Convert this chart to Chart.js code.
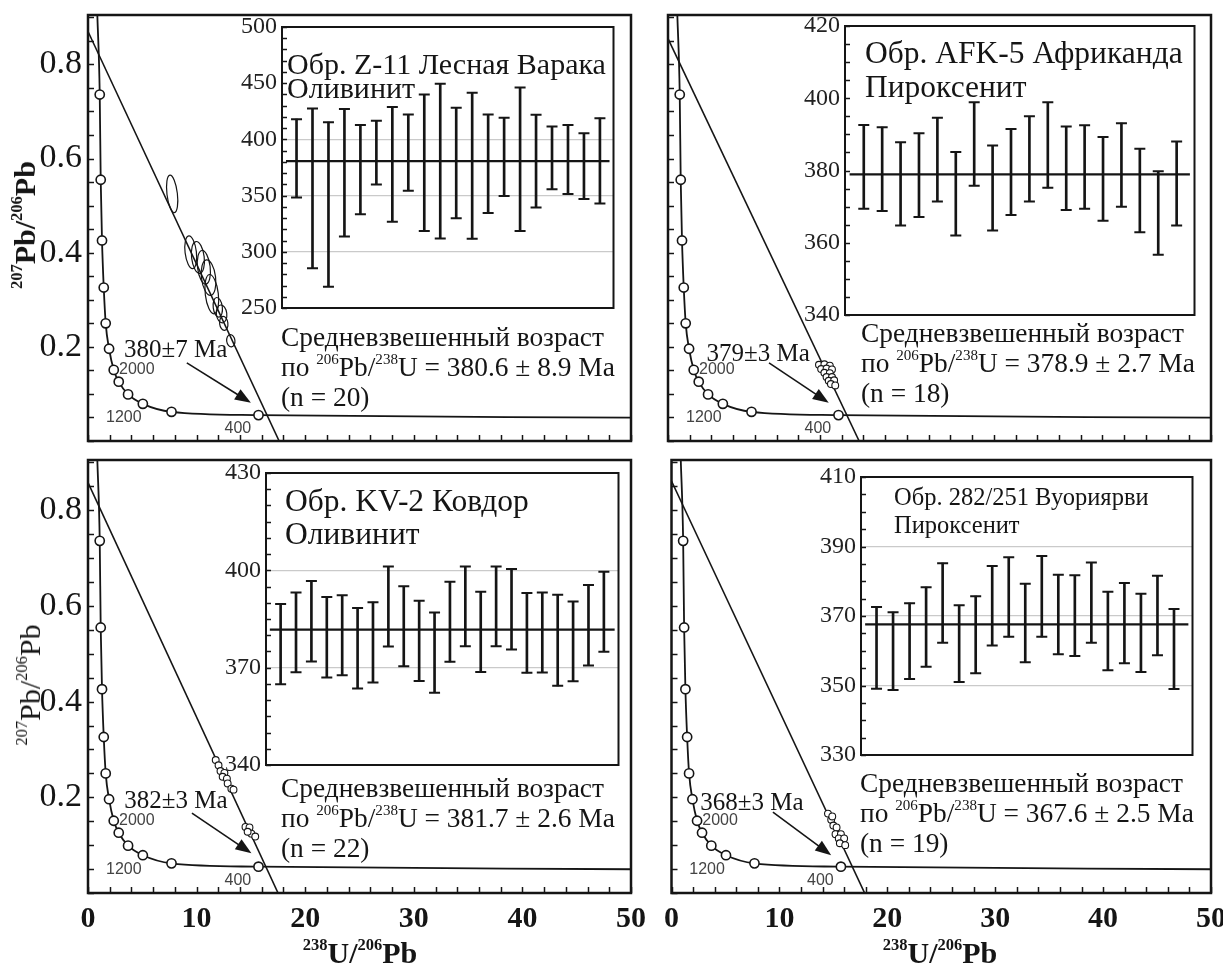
<!DOCTYPE html>
<html lang="ru">
<head>
<meta charset="utf-8">
<title>U-Pb perovskite ages</title>
<script src="https://cdn.jsdelivr.net/npm/chart.js@4.4.1/dist/chart.umd.min.js"></script>
<style>
html, body { margin: 0; padding: 0; overflow: hidden; background: #fff; }
#page { position: relative; width: 1223px; height: 967px; overflow: hidden; background: #fff; }
canvas { position: absolute; }
.t { position: absolute; font-family: "Liberation Serif", "Times New Roman", serif; color: #151515; white-space: nowrap; }
.t sup { font-size: 55%; vertical-align: 0.8em; line-height: 0; }
.cap { font-size: 27.4px; line-height: 30px; }
.yt { font-size: 30px; transform: translate(-50%, -50%) rotate(-90deg); }
.xt { font-size: 30px; font-weight: bold; transform: translate(-50%, -50%); }
.lab { font-family: "Liberation Sans", Arial, sans-serif; font-size: 16px; color: #444; transform: translate(-50%, -50%); }
.age { font-size: 25px; transform: translate(-50%, -50%); }
</style>
</head>
<body>
<div id="page">
  <div class="t" style="left:287px;top:52px;font-size:30px;line-height:24px">Обр. Z-11 Лесная Варака<br>Оливинит</div>
  <div class="t cap" style="left:281px;top:322px">Средневзвешенный возраст<br>по <sup>206</sup>Pb/<sup>238</sup>U = 380.6 ± 8.9 Ma<br>(n = 20)</div>

  <div class="t" style="left:865px;top:36px;font-size:31.5px;line-height:34px">Обр. AFK-5 Африканда<br>Пироксенит</div>
  <div class="t cap" style="left:861px;top:318px">Средневзвешенный возраст<br>по <sup>206</sup>Pb/<sup>238</sup>U = 378.9 ± 2.7 Ma<br>(n = 18)</div>

  <div class="t" style="left:285px;top:484px;font-size:31.5px;line-height:33px">Обр. KV-2 Ковдор<br>Оливинит</div>
  <div class="t cap" style="left:281px;top:773px">Средневзвешенный возраст<br>по <sup>206</sup>Pb/<sup>238</sup>U = 381.7 ± 2.6 Ma<br>(n = 22)</div>

  <div class="t" style="left:894px;top:483px;font-size:24.5px;line-height:28px">Обр. 282/251 Вуориярви<br>Пироксенит</div>
  <div class="t cap" style="left:860px;top:768px">Средневзвешенный возраст<br>по <sup>206</sup>Pb/<sup>238</sup>U = 367.6 ± 2.5 Ma<br>(n = 19)</div>

  <div class="t yt" style="left:25px;top:225px;font-weight:bold"><sup>207</sup>Pb/<sup>206</sup>Pb</div>
  <div class="t yt" style="left:30px;top:685px"><sup>207</sup>Pb/<sup>206</sup>Pb</div>
  <div class="t xt" style="left:360px;top:953px"><sup>238</sup>U/<sup>206</sup>Pb</div>
  <div class="t xt" style="left:940px;top:953px"><sup>238</sup>U/<sup>206</sup>Pb</div>
</div>
<script>
// concordia markers, 400 ... 4800 Ma every 400 Ma (238U/206Pb, 207Pb/206Pb)
const concX = [15.7, 7.69, 5.05, 3.69, 2.83, 2.37, 1.94, 1.63, 1.45, 1.29, 1.17, 1.08];
const concY = [0.055, 0.062, 0.079, 0.099, 0.126, 0.151, 0.196, 0.250, 0.326, 0.426, 0.555, 0.736];
// where the concordia leaves the frame (top, right)
const concEndX = [0.86, 50];
const concEndY = [0.905, 0.0496];
const concLabels = ['2000', '1200', '400'];
const concLabelX = [4.5, 3.3, 13.8];
const concLabelY = [0.152, 0.05, 0.028];

// Z-11 Лесная Варака
const zDiscX = [0, 17.6];
const zDiscY = [0.87, 0];
const zEllX = [7.75, 9.46, 10.12, 10.67, 11.1, 11.4, 11.95, 12.3, 12.5, 13.15];
const zEllY = [0.525, 0.401, 0.390, 0.369, 0.347, 0.312, 0.284, 0.270, 0.250, 0.213];
const zEllRx = [0.48, 0.52, 0.58, 0.58, 0.65, 0.6, 0.42, 0.48, 0.38, 0.38];
const zEllRy = [0.04, 0.035, 0.034, 0.036, 0.038, 0.042, 0.021, 0.019, 0.015, 0.013];
const zHi = [418, 427.6, 415.3, 427, 412.9, 416.5, 428.8, 422.2, 439.9, 449.5, 428.2, 441.4, 422.2, 419.2, 446.2, 421.9, 411.4, 412.9, 405.4, 418.9];
const zLo = [348.4, 285.4, 268.9, 313.6, 333.4, 359.8, 326.8, 354.4, 318.4, 311.8, 329.8, 311.5, 334.6, 349.6, 318.4, 339.4, 355.6, 351.4, 346.9, 343];
const zMean = 380.6;
const zAgeTicks = [250, 300, 350, 400, 450, 500];
const zGrid = [300, 350, 400];

// AFK-5 Африканда
const aDiscX = [0, 17.6];
const aDiscY = [0.855, 0];
const aPtX = [13.9, 14.4, 14.9, 14.1, 14.6, 15.1, 14.4, 14.9, 14.6, 15.1, 14.8, 15.3, 15.0, 15.4];
const aPtY = [0.162, 0.163, 0.160, 0.153, 0.154, 0.152, 0.145, 0.144, 0.136, 0.136, 0.128, 0.129, 0.121, 0.118];
const aHi = [392.6, 392, 387.8, 390.3, 394.6, 385.1, 398.9, 386.9, 391.5, 395, 398.9, 392.2, 392.5, 389.3, 393.1, 386, 379.8, 388];
const aLo = [369.4, 368.8, 364.8, 367.1, 371.4, 362, 375.8, 363.4, 367.7, 371.4, 375.2, 369.1, 369.4, 366.1, 370, 362.9, 356.7, 364.8];
const aMean = 378.9;
const aAgeTicks = [340, 360, 380, 400, 420];
const aGrid = [];

// KV-2 Ковдор
const kDiscX = [0, 17.5];
const kDiscY = [0.858, 0];
const kPtX = [11.76, 12.02, 12.2, 12.56, 12.4, 12.79, 12.86, 13.2, 13.4, 14.5, 14.87, 15.05, 15.4, 14.7];
const kPtY = [0.278, 0.267, 0.255, 0.251, 0.243, 0.239, 0.229, 0.218, 0.216, 0.138, 0.137, 0.124, 0.118, 0.128];
const kHi = [389.6, 393.2, 396.7, 391.8, 392.3, 388.4, 390.2, 401.2, 395.1, 390.6, 387, 396.5, 401.2, 393.4, 401.2, 400.4, 393, 393.2, 392.5, 390.4, 395.5, 399.6];
const kLo = [364.9, 368.6, 371.9, 367, 367.7, 363.6, 365.4, 376.5, 370.4, 365.9, 362.3, 371.8, 376.6, 368.7, 376.6, 375.6, 368.4, 368.5, 364.4, 365.8, 370.7, 374.9];
const kMean = 381.7;
const kAgeTicks = [340, 370, 400, 430];
const kGrid = [370, 400];

// 282/251 Вуориярви
const vDiscX = [0, 17.9];
const vDiscY = [0.861, 0];
const vPtX = [14.5, 14.8, 15.0, 15.3, 15.2, 15.7, 15.5, 16.0, 15.6, 16.1, 14.9];
const vPtY = [0.166, 0.153, 0.141, 0.137, 0.123, 0.123, 0.114, 0.114, 0.104, 0.100, 0.160];
const vHi = [372.6, 371.1, 373.7, 378.3, 385.2, 373.1, 375.7, 384.4, 386.9, 379.3, 387.3, 381.9, 381.7, 385.4, 377, 379.5, 376.4, 381.6, 372];
const vLo = [349.1, 348.7, 351.9, 355.4, 362.3, 351, 353.5, 361.5, 364, 356.7, 364, 359, 358.5, 362.3, 354.4, 356.4, 353.9, 358.7, 349];
const vMean = 367.6;
const vAgeTicks = [330, 350, 370, 390, 410];
const vGrid = [350, 370, 390];

// age notes with arrows
const noteText = ['380±7 Ma', '379±3 Ma', '382±3 Ma', '368±3 Ma'];
const noteX = [8.08, 8.3, 8.1, 7.45];
const noteY = [0.196, 0.187, 0.194, 0.19];
const arrowX0 = [9.1, 9.3, 9.57, 9.4];
const arrowY0 = [0.166, 0.166, 0.167, 0.169];
const arrowX1 = [15.0, 14.8, 15.05, 14.8];
const arrowY1 = [0.081, 0.081, 0.083, 0.079];

const SERIF = '"Liberation Serif", "Times New Roman", serif';
const INK = '#151515';
const page = document.getElementById('page');
const pts = (xs, ys) => xs.map((x, i) => ({ x, y: ys[i] }));

function makeCanvas(l, t, w, h) {
  const c = document.createElement('canvas');
  c.width = w; c.height = h;
  c.style.left = l + 'px'; c.style.top = t + 'px';
  c.style.width = w + 'px'; c.style.height = h + 'px';
  page.insertBefore(c, page.firstChild);
  return { c, l, t };
}

function addText(cls, html, left, top) {
  const d = document.createElement('div');
  d.className = 't ' + cls;
  d.innerHTML = html;
  d.style.left = left + 'px';
  d.style.top = top + 'px';
  page.appendChild(d);
}

// frame around the plot area, ticks drawn inward
function framePlugin(inner, len, width) {
  return {
    id: 'frame',
    afterDraw(chart) {
      const { ctx, chartArea: a } = chart;
      ctx.save();
      ctx.strokeStyle = INK;
      ctx.lineWidth = 1.5;
      inner.forEach(id => {
        const s = chart.scales[id];
        s.ticks.forEach(t => {
          const p = Math.round(s.getPixelForValue(t.value)) + 0.5;
          ctx.beginPath();
          if (s.isHorizontal()) { ctx.moveTo(p, a.bottom); ctx.lineTo(p, a.bottom - len); }
          else { ctx.moveTo(a.left, p); ctx.lineTo(a.left + len, p); }
          ctx.stroke();
        });
      });
      ctx.lineWidth = width;
      ctx.strokeRect(a.left, a.top, a.right - a.left, a.bottom - a.top);
      ctx.restore();
    }
  };
}

// ellipses and the age arrow, placed with the chart scales
function marksPlugin(p) {
  return {
    id: 'marks',
    afterDatasetsDraw(chart) {
      const { ctx } = chart, xs = chart.scales.x, ys = chart.scales.y;
      ctx.save();
      ctx.strokeStyle = INK;
      ctx.lineWidth = 1.2;
      (p.ellX || []).forEach((x, i) => {
        const cx = xs.getPixelForValue(x), cy = ys.getPixelForValue(p.ellY[i]);
        const rx = Math.abs(xs.getPixelForValue(x + p.ellRx[i]) - cx);
        const ry = Math.abs(ys.getPixelForValue(p.ellY[i] + p.ellRy[i]) - cy);
        ctx.beginPath();
        ctx.ellipse(cx, cy, rx, ry, -0.12, 0, Math.PI * 2);
        ctx.stroke();
      });
      const i = p.k;
      const x0 = xs.getPixelForValue(arrowX0[i]), y0 = ys.getPixelForValue(arrowY0[i]);
      const x1 = xs.getPixelForValue(arrowX1[i]), y1 = ys.getPixelForValue(arrowY1[i]);
      const ang = Math.atan2(y1 - y0, x1 - x0);
      ctx.lineWidth = 1.6;
      ctx.beginPath(); ctx.moveTo(x0, y0);
      ctx.lineTo(x1 - 12 * Math.cos(ang), y1 - 12 * Math.sin(ang)); ctx.stroke();
      ctx.fillStyle = INK;
      ctx.beginPath();
      ctx.moveTo(x1, y1);
      ctx.lineTo(x1 - 16 * Math.cos(ang) + 6 * Math.sin(ang), y1 - 16 * Math.sin(ang) - 6 * Math.cos(ang));
      ctx.lineTo(x1 - 16 * Math.cos(ang) - 6 * Math.sin(ang), y1 - 16 * Math.sin(ang) + 6 * Math.cos(ang));
      ctx.closePath(); ctx.fill();
      ctx.restore();
    }
  };
}

function mainChart(p) {
  const [l, t, r, b] = p.frame;
  const yw = p.yLabels ? l : 12;
  const xh = p.xLabels ? 967 - b : 30;
  const cv = makeCanvas(l - yw, t - 30, r + 26 - (l - yw), b + xh - (t - 30));
  const curve = pts([concEndX[0], ...concX.slice().reverse(), concEndX[1]],
                    [concEndY[0], ...concY.slice().reverse(), concEndY[1]]);
  const chart = new Chart(cv.c, {
    type: 'scatter',
    data: {
      datasets: [
        { data: pts(p.ptX || [], p.ptY || []), pointRadius: 3.4, pointBackgroundColor: '#fff',
          pointBorderColor: INK, pointBorderWidth: 1.1, order: 0 },
        { data: pts(concX, concY), pointRadius: 4.6, pointBackgroundColor: '#fff',
          pointBorderColor: INK, pointBorderWidth: 1.6, order: 1 },
        { data: pts(p.discX, p.discY), showLine: true, borderColor: INK, borderWidth: 1.6,
          pointRadius: 0, order: 2 },
        { data: curve, showLine: true, borderColor: INK, borderWidth: 1.8, pointRadius: 0,
          cubicInterpolationMode: 'monotone', order: 3 }
      ]
    },
    options: {
      responsive: false, animation: false, events: [],
      layout: { padding: { top: 30, right: 26, bottom: 0, left: 0 } },
      plugins: { legend: { display: false }, tooltip: { enabled: false } },
      scales: {
        x: {
          type: 'linear', min: 0, max: 50,
          afterFit: s => { s.height = xh; },
          ticks: { stepSize: 2, autoSkip: false, maxRotation: 0, includeBounds: false, padding: 8,
                   font: { family: SERIF, size: 30, weight: 'bold' }, color: INK,
                   callback: v => (p.xLabels && v % 10 === 0) ? String(v) : '' },
          grid: { display: false, drawTicks: false }, border: { display: false }
        },
        y: {
          min: 0, max: 0.905,
          afterFit: s => { s.width = yw; },
          ticks: { stepSize: 0.05, autoSkip: false, includeBounds: false, padding: 6,
                   font: { family: SERIF, size: 34 }, color: INK,
                   callback: v => { const k = Math.round(v * 100); return (p.yLabels && k > 0 && k % 20 === 0) ? (k / 100).toFixed(1) : ''; } },
          grid: { display: false, drawTicks: false }, border: { display: false }
        }
      }
    },
    plugins: [framePlugin(['x', 'y'], 6, 2.5), marksPlugin(p)]
  });
  const px = v => cv.l + chart.scales.x.getPixelForValue(v);
  const py = v => cv.t + chart.scales.y.getPixelForValue(v);
  concLabels.forEach((s, i) => addText('lab', s, px(concLabelX[i]), py(concLabelY[i])));
  addText('age', noteText[p.k], px(noteX[p.k]), py(noteY[p.k]));
}

function insetChart(q) {
  const [l, t, r, b] = q.box;
  const yw = 52;
  const cv = makeCanvas(l - yw, t - 22, r - l + yw + 4, b - t + 44);
  const idx = q.lo.map((_, i) => i + 1);
  new Chart(cv.c, {
    type: 'bar',
    data: {
      datasets: [
        { type: 'line', data: [{ x: q.xMin + 0.25, y: q.mean }, { x: q.xMax - 0.25, y: q.mean }],
          borderColor: INK, borderWidth: 2.2, pointRadius: 0, order: 0 },
        { type: 'scatter', data: pts(idx, q.lo).concat(pts(idx, q.hi)), pointStyle: 'line',
          pointRadius: 5.5, pointBorderColor: INK, pointBorderWidth: 2, order: 1 },
        { type: 'bar', data: idx.map((x, i) => ({ x, y: [q.lo[i], q.hi[i]] })),
          backgroundColor: INK, barThickness: 2, order: 2 }
      ]
    },
    options: {
      responsive: false, animation: false, events: [],
      layout: { padding: { top: 22, right: 4, bottom: 22, left: 0 } },
      plugins: { legend: { display: false }, tooltip: { enabled: false } },
      scales: {
        x: { type: 'linear', min: q.xMin, max: q.xMax, offset: false, display: false },
        y: {
          min: q.ticks[0], max: q.ticks[q.ticks.length - 1],
          afterFit: s => { s.width = yw; },
          ticks: { stepSize: q.step, autoSkip: false, padding: 5,
                   font: { family: SERIF, size: 24 }, color: '#222',
                   callback: v => q.ticks.includes(v) ? String(v) : '' },
          grid: { drawTicks: false, lineWidth: 1.2,
                  color: c => q.grid.includes(c.tick.value) ? '#cacaca' : 'rgba(0,0,0,0)' },
          border: { display: false }
        }
      }
    },
    plugins: [framePlugin(['y'], 5, 2)]
  });
}

mainChart({ k: 0, frame: [88, 15, 631, 441], yLabels: true, xLabels: false,
  discX: zDiscX, discY: zDiscY, ellX: zEllX, ellY: zEllY, ellRx: zEllRx, ellRy: zEllRy });
mainChart({ k: 1, frame: [668, 15, 1211, 441], yLabels: false, xLabels: false,
  discX: aDiscX, discY: aDiscY, ptX: aPtX, ptY: aPtY });
mainChart({ k: 2, frame: [88, 460, 631, 893], yLabels: true, xLabels: true,
  discX: kDiscX, discY: kDiscY, ptX: kPtX, ptY: kPtY });
mainChart({ k: 3, frame: [668, 460, 1211, 893], yLabels: false, xLabels: true,
  discX: vDiscX, discY: vDiscY, ptX: vPtX, ptY: vPtY });

insetChart({ box: [282, 27, 617, 308], lo: zLo, hi: zHi, mean: zMean, ticks: zAgeTicks, step: 10, grid: zGrid, xMin: 0.09, xMax: 20.85 });
insetChart({ box: [845, 26, 1198, 315], lo: aLo, hi: aHi, mean: aMean, ticks: aAgeTicks, step: 5, grid: aGrid, xMin: -0.02, xMax: 18.97 });
insetChart({ box: [266, 473, 622, 765], lo: kLo, hi: kHi, mean: kMean, ticks: kAgeTicks, step: 5, grid: kGrid, xMin: 0.05, xMax: 22.95 });
insetChart({ box: [861, 477, 1196, 755], lo: vLo, hi: vHi, mean: vMean, ticks: vAgeTicks, step: 5, grid: vGrid, xMin: 0.06, xMax: 20.12 });
</script>
</body>
</html>
